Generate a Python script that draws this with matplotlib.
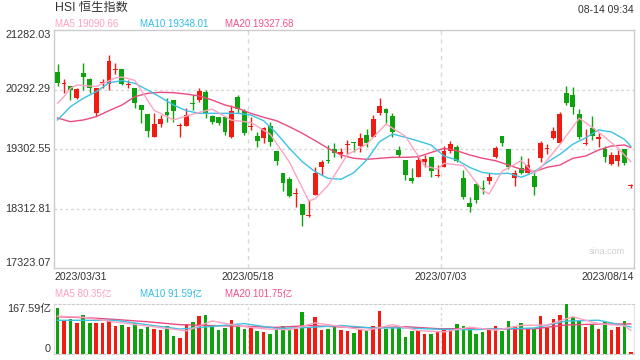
import numpy as np
import matplotlib
matplotlib.use("Agg")
import matplotlib.pyplot as plt
from matplotlib.transforms import blended_transform_factory

plt.rcParams['font.family'] = ['Liberation Sans', 'Noto Sans CJK SC', 'DejaVu Sans']

# ---------------- data ----------------
title = "HSI 恒生指数"
timestamp = "08-14 09:34"
date_labels = ["2023/03/31", "2023/05/18", "2023/07/03", "2023/08/14"]
y_min, y_max = 17323.07, 21282.03
vol_max = 167.59
ma_texts = ["MA5 19090.66", "MA10 19348.01", "MA20 19327.68"]
vol_ma_texts = ["MA5 80.35亿", "MA10 91.59亿", "MA20 101.75亿"]
vol_top_label = "167.59亿"

opens = [20578, 20379, 20350, 20146, 20562, 20462, 19896, 20397, 20379, 20620,
         20628, 20370, 20312, 20034, 19885, 19507, 19718, 19923, 20118, 19677,
         19685, 20056, 20118, 20256, 19851, 19830, 19830, 19507, 20172, 19940,
         19665, 19519, 19481, 19690, 19274, 18898, 18799, 18546, 18388, 18180,
         18537, 19008, 19108, 19298, 19219, 19361, 19424, 19352, 19535, 19507,
         19896, 19963, 19851, 19286, 19120, 18815, 18842, 19091, 19164, 18853,
         18998, 19274, 19331, 18815, 18399, 18720, 18654, 18775, 19164, 19519,
         19298, 18815, 18981, 18908, 18853, 19148, 19309, 19481, 19407, 20229,
         20201, 19885, 19381, 19647, 19464, 19298, 19048, 19108, 19298, 18680]
highs = [20716, 20462, 20350, 20312, 20738, 20479, 20312, 20462, 20866, 20738,
         20628, 20450, 20312, 20034, 19885, 19896, 19868, 20146, 20118, 19735,
         19980, 20201, 20312, 20284, 19868, 19830, 19830, 20034, 20201, 19963,
         19840, 19590, 19673, 19757, 19274, 18898, 18842, 18654, 18388, 18454,
         18998, 19120, 19369, 19397, 19314, 19452, 19424, 19564, 19630, 19868,
         20146, 19980, 19896, 19352, 19120, 18981, 19203, 19203, 19164, 19036,
         19352, 19436, 19369, 18953, 18509, 18742, 18787, 18908, 19352, 19519,
         19298, 18953, 19186, 19148, 18953, 19441, 19386, 19673, 19923, 20350,
         20329, 19963, 19630, 19851, 19574, 19352, 19258, 19286, 19298, 18720]
lows = [20350, 20229, 20118, 20129, 20284, 20229, 19851, 20312, 20284, 20550,
        20367, 20312, 19980, 19730, 19507, 19507, 19664, 19757, 19757, 19507,
        19685, 19951, 20089, 19813, 19718, 19702, 19535, 19485, 19896, 19535,
        19619, 19341, 19397, 19352, 19036, 18604, 18509, 18343, 18022, 18176,
        18537, 18870, 19065, 19175, 19148, 19219, 19258, 19258, 19341, 19497,
        19868, 19730, 19507, 19164, 18787, 18742, 18832, 19008, 18832, 18837,
        18998, 19241, 19091, 18466, 18260, 18399, 18554, 18720, 19148, 19352,
        18965, 18687, 18887, 18898, 18537, 19091, 19219, 19464, 19397, 20034,
        19885, 19464, 19369, 19452, 19341, 19091, 19036, 19020, 19036, 18660]
closes = [20405, 20395, 20284, 20296, 20495, 20312, 20312, 20405, 20766, 20628,
          20379, 20379, 20073, 19951, 19607, 19718, 19797, 19868, 19940, 19685,
          19868, 20046, 20272, 19896, 19757, 19740, 19590, 19935, 19963, 19564,
          19673, 19441, 19647, 19424, 19108, 18732, 18521, 18554, 18205, 18188,
          18898, 19091, 19098, 19231, 19258, 19369, 19397, 19481, 19397, 19797,
          20018, 19896, 19590, 19203, 18870, 18775, 19120, 19136, 18942, 18858,
          19274, 19386, 19108, 18509, 18343, 18454, 18644, 18832, 19314, 19407,
          18998, 18908, 18908, 19036, 18665, 19407, 19314, 19607, 19885, 20073,
          20006, 19507, 19386, 19519, 19507, 19164, 19203, 19203, 19065, 18690]
volumes = [154.1, 111.1, 119.2, 104.3, 131.4, 104.3, 104.3, 104.3, 111.1, 94.1,
           97.5, 90.7, 105.6, 84.0, 93.1, 84.0, 80.6, 95.5, 60.3, 55.9,
           99.9, 107.7, 128.0, 130.4, 94.1, 83.0, 88.7, 113.4, 97.5, 86.3,
           89.7, 79.6, 73.8, 69.4, 85.3, 96.5, 85.3, 85.3, 140.5, 92.1,
           123.6, 83.0, 86.3, 90.7, 83.0, 79.6, 72.8, 85.3, 79.6, 96.5,
           143.9, 86.3, 90.7, 90.7, 59.3, 79.6, 77.2, 69.4, 69.4, 73.8,
           85.3, 89.7, 99.9, 96.5, 83.0, 69.4, 76.2, 80.6, 94.1, 79.6,
           111.1, 96.5, 103.3, 85.3, 85.3, 128.0, 88.7, 116.8, 130.4, 167.59,
           126.0, 111.1, 90.7, 97.5, 86.3, 107.7, 83.0, 90.7, 111.1, 6.1]

ma5_idx = [0, 1, 2, 3, 6, 9, 10, 12, 15, 18, 21, 24, 27, 30, 33, 36, 39, 40, 42, 45,
           48, 51, 54, 57, 59, 60, 63, 66, 67, 69, 72, 74, 75, 78, 81, 84, 87, 89]
ma5 = [20063, 20173, 20312, 20367, 20341, 20485, 20499, 20445, 19946, 19787,
       19881, 19968, 19783, 19745, 19550, 19086, 18439, 18473, 18695, 19209,
       19381, 19718, 19515, 19021, 18967, 19066, 19026, 18612, 18556, 18930,
       19108, 18903, 18985, 19376, 19815, 19585, 19319, 19091]
ma10_idx = [0, 2, 4, 6, 8, 10, 12, 14, 16, 18, 20, 22, 25, 28, 30, 32, 34, 36, 38, 40,
            42, 44, 46, 48, 50, 52, 54, 56, 58, 60, 62, 64, 66, 68, 70, 72, 74, 76, 78, 80,
            82, 84, 86, 88, 89]
ma10 = [19785, 20006, 20146, 20256, 20405, 20439, 20395, 20284, 20163, 20034,
        19940, 19896, 19896, 19896, 19868, 19773, 19564, 19314, 19091, 18925,
        18815, 18799, 18908, 19120, 19424, 19552, 19497, 19436, 19369, 19186,
        19120, 18995, 18912, 18887, 18900, 18832, 18917, 19080, 19214, 19381,
        19489, 19620, 19585, 19464, 19348]
ma20_idx = [0, 2, 4, 6, 8, 10, 12, 14, 16, 18, 20, 22, 24, 26, 28, 30, 32, 34, 36, 38,
            40, 42, 44, 46, 48, 50, 52, 54, 56, 58, 60, 62, 64, 66, 68, 70, 72, 74, 76, 78,
            80, 82, 84, 86, 88, 89]
ma20 = [19818, 19757, 19785, 19840, 19940, 20034, 20173, 20229, 20246, 20239,
        20217, 20184, 20118, 20034, 19980, 19896, 19830, 19773, 19673, 19564,
        19441, 19314, 19203, 19148, 19131, 19148, 19164, 19164, 19174, 19244,
        19314, 19274, 19203, 19148, 19108, 19036, 18965, 18925, 18998, 19036,
        19148, 19186, 19286, 19352, 19369, 19328]

vma5_idx = [0, 4, 8, 12, 16, 20, 24, 28, 32, 36, 40, 44, 48, 52, 56, 60, 64, 68, 72, 76,
            80, 84, 88, 89]
vma5 = [128, 124, 111.1, 99.8, 89.5, 78.4, 112, 95.3, 85.4, 82.1, 105.4, 93.3, 80.1,
        99.4, 79.5, 75, 90.9, 80.7, 96.9, 98.1, 125.9, 102.3, 95.8, 80.35]
vma10_idx = [0, 4, 9, 14, 19, 24, 29, 34, 39, 44, 49, 54, 59, 64, 69, 74, 79, 84, 89]
vma10 = [114, 114, 113.8, 98.9, 84.7, 93.6, 102.9, 86.7, 89.8, 96.6, 88, 88.5, 84,
         82.4, 85.4, 88.1, 111.3, 114.3, 91.59]
vma20_idx = [0, 5, 9, 14, 19, 24, 29, 34, 39, 44, 49, 54, 59, 64, 69, 74, 79, 84, 89]
vma20 = [126, 122, 116.8, 109, 99.3, 96.3, 93.8, 90.2, 96.3, 91.7, 88.9, 92.6, 86,
         85.4, 84.7, 85.3, 98.4, 101.2, 101.75]

# ---------------- style ----------------
RED = '#f01c12'
GREEN = '#0ea30e'
C_MA5 = '#ffa3c2'
C_MA10 = '#3dc2e3'
C_MA20 = '#ec4a80'
T_MA5 = '#ffa0c0'
T_MA10 = '#33bde0'
T_MA20 = '#f0508a'
TXT = '#333333'
FRAME = '#cccccc'
GRID = '#d8d8d8'

W, H = 640, 360
def fx(px):
    return px / W
def fy(py):
    return 1 - py / H

L, R = 54.3, 634.0
TOP, BOT = 30.0, 268.0
VTOP, VBOT = 304.3, 354.3

fig = plt.figure(figsize=(6.4, 3.6), dpi=100)
fig.patch.set_facecolor('white')
ax = fig.add_axes([fx(L), fy(BOT), (R - L) / W, (BOT - TOP) / H])
axv = fig.add_axes([fx(L), fy(VBOT), (R - L) / W, (VBOT - VTOP) / H])

n = len(closes)
x = np.arange(n)
o = np.array(opens, float)
c = np.array(closes, float)
h = np.array(highs, float)
l = np.array(lows, float)
up = c >= o
col = np.where(up, RED, GREEN)

# candles
ax.vlines(x, l, h, colors=col, linewidth=1.0, zorder=3)
body_bottom = np.minimum(o, c)
body_h = np.maximum(np.abs(c - o), 17)
ax.bar(x, body_h, bottom=body_bottom, width=0.76, color=col, linewidth=0, zorder=4)

ax.plot(ma20_idx, ma20, color=C_MA20, lw=1.0, zorder=5)
ax.plot(ma10_idx, ma10, color=C_MA10, lw=1.0, zorder=5)
ax.plot(ma5_idx, ma5, color=C_MA5, lw=1.0, zorder=6)

ax.set_xlim(-0.5, n - 0.5)
ax.set_ylim(y_min, y_max)
levels = np.linspace(y_min, y_max, 5)
for lv in levels[1:-1]:
    ax.axhline(lv, color=GRID, lw=1.0, ls=(0, (2, 2)), zorder=1)
third = n / 3.0
vx = [-0.5 + third, -0.5 + 2 * third]
for xv in vx:
    ax.axvline(xv, color=GRID, lw=1.0, ls=(0, (3, 3)), zorder=1)
ax.set_xticks([])
ax.set_yticks([])
for s in ax.spines.values():
    s.set_color(FRAME)
    s.set_linewidth(1.0)

tr = blended_transform_factory(ax.transAxes, ax.transData)
off = -3.3 / (R - L)
for k, lv in enumerate(levels):
    va = 'top' if k == 4 else ('bottom' if k == 0 else 'center')
    ax.text(off, lv, f"{lv:.2f}", transform=tr, ha='right', va=va,
            fontsize=7.8, color=TXT)

ax.text(0.985, 0.05, "sina.com", transform=ax.transAxes, ha='right', va='bottom',
        fontsize=6.5, color='#cfcfcf')

# volume
axv.bar(x, volumes, width=0.56, color=col, linewidth=0, zorder=3)
axv.plot(vma20_idx, vma20, color=C_MA20, lw=1.0, zorder=4)
axv.plot(vma10_idx, vma10, color=C_MA10, lw=1.0, zorder=4)
axv.plot(vma5_idx, vma5, color=C_MA5, lw=1.0, zorder=5)
axv.set_xlim(-0.5, n - 0.5)
axv.set_ylim(0, vol_max)
axv.set_xticks([])
axv.set_yticks([])
for xv in vx:
    axv.axvline(xv, color=GRID, lw=1.0, ls=(0, (2, 2)), zorder=1)
for side in ['top', 'bottom']:
    axv.spines[side].set_color(FRAME)
    axv.spines[side].set_linestyle((0, (2, 2)))
for side in ['left', 'right']:
    axv.spines[side].set_color('#e2e2e2')

# texts
fig.text(fx(55), fy(8), title, fontsize=8.8, color=TXT, ha='left', va='center')
fig.text(fx(634), fy(10), timestamp, fontsize=7.5, color=TXT, ha='right', va='center')
for txt, xp, cc in zip(ma_texts, [55, 140, 225], [T_MA5, T_MA10, T_MA20]):
    fig.text(fx(xp), fy(24), txt, fontsize=7.0, color=cc, ha='left', va='center')
for txt, xp, cc in zip(vol_ma_texts, [55, 140, 225], [T_MA5, T_MA10, T_MA20]):
    fig.text(fx(xp), fy(294), txt, fontsize=7.0, color=cc, ha='left', va='center')

fig.text(fx(L), fy(277.3), date_labels[0], fontsize=7.6, color=TXT, ha='left', va='center')
for lab, xv in zip(date_labels[1:3], vx):
    xpix = L + (xv + 0.5) / n * (R - L)
    fig.text(fx(xpix), fy(277.3), lab, fontsize=7.6, color=TXT, ha='center', va='center')
fig.text(fx(R), fy(277.3), date_labels[3], fontsize=7.6, color=TXT, ha='right', va='center')

fig.text(fx(51), fy(VTOP), vol_top_label, fontsize=7.8, color=TXT, ha='right', va='top')
fig.text(fx(51), fy(VBOT), "0", fontsize=7.8, color=TXT, ha='right', va='bottom')

fig.savefig("out.png", dpi=100, facecolor='white')
